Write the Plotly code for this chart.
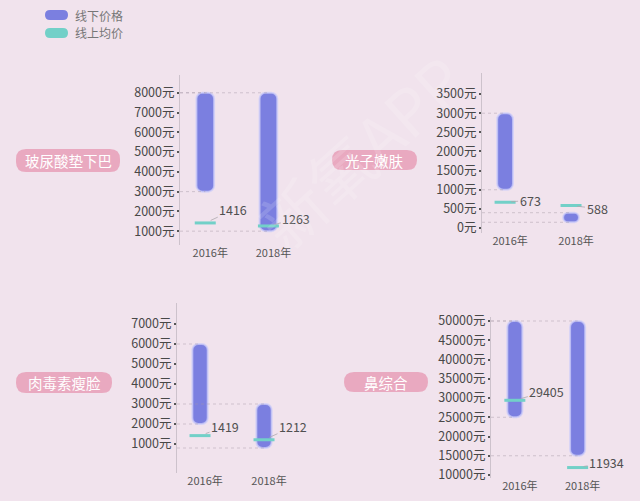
import plotly.graph_objects as go

# ---------------- data ----------------
years = ["2016年", "2018年"]
procedures = ["玻尿酸垫下巴", "光子嫩肤", "肉毒素瘦脸", "鼻综合"]

chin_low = [3000, 1000]
chin_high = [8000, 8000]
chin_online = [1416, 1263]

photon_low = [1000, 150]
photon_high = [3000, 400]
photon_online = [673, 588]

botox_low = [2000, 800]
botox_high = [6000, 3000]
botox_online = [1419, 1212]

nose_low = [25000, 15000]
nose_high = [50000, 50000]
nose_online = [29405, 11934]

chin_ticks = [1000, 2000, 3000, 4000, 5000, 6000, 7000, 8000]
photon_ticks = [0, 500, 1000, 1500, 2000, 2500, 3000, 3500]
botox_ticks = [1000, 2000, 3000, 4000, 5000, 6000, 7000]
nose_ticks = [10000, 15000, 20000, 25000, 30000, 35000, 40000, 45000, 50000]
unit = "元"

legend_names = ["线下价格", "线上均价"]
watermark = "新氧APP"

# ---------------- layout helpers ----------------
W, H = 640, 501
BG = "#f1e3ed"
PURPLE = "#7b7fe0"
TEAL = "#72d0c8"
PINK = "#e9a9c0"
FONT = "Noto Sans CJK SC, Roboto, sans-serif"


def fx(x):
    return x / W


def fy(y):
    return 1 - y / H


def pill_path(x0, y0, x1, y1, r):
    def P(x, y):
        return f"{fx(x):.5f},{fy(y):.5f}"
    return (f"M {P(x0 + r, y0)} L {P(x1 - r, y0)} Q {P(x1, y0)} {P(x1, y0 + r)} "
            f"L {P(x1, y1 - r)} Q {P(x1, y1)} {P(x1 - r, y1)} "
            f"L {P(x0 + r, y1)} Q {P(x0, y1)} {P(x0, y1 - r)} "
            f"L {P(x0, y0 + r)} Q {P(x0, y0)} {P(x0 + r, y0)} Z")


panels = [
    dict(name=procedures[0], low=chin_low, high=chin_high, online=chin_online, ticks=chin_ticks,
         xdom=(180, 300), ydom=(75, 245), xr=(-0.4, 1.5), yr=(300, 8900), bw=0.28,
         pill=(16, 149, 120, 172), offs=[(28, -13), (28, -7)]),
    dict(name=procedures[1], low=photon_low, high=photon_high, online=photon_online, ticks=photon_ticks,
         xdom=(482, 604), ydom=(73, 233), xr=(-0.35, 1.5), yr=(-130, 4050), bw=0.24,
         pill=(332, 150, 417, 170), offs=[(25, -2), (26, 3)]),
    dict(name=procedures[2], low=botox_low, high=botox_high, online=botox_online, ticks=botox_ticks,
         xdom=(177, 296), ydom=(303, 473), xr=(-0.36, 1.5), yr=(-450, 8050), bw=0.24,
         pill=(16, 372, 112, 393), offs=[(25, -9), (29, -13)]),
    dict(name=procedures[3], low=nose_low, high=nose_high, online=nose_online, ticks=nose_ticks,
         xdom=(491, 609), ydom=(317, 478), xr=(-0.38, 1.5), yr=(9220, 51040), bw=0.24,
         pill=(344, 372, 428, 392), offs=[(32, -9), (29, -5)]),
]

fig = go.Figure()
shapes = []
annotations = []
layout_axes = {}

for i, p in enumerate(panels):
    n = "" if i == 0 else str(i + 1)
    xa, ya = "x" + n, "y" + n
    xs = list(range(len(years)))

    # dotted reference lines from the axis to each bar's ends
    lx, ly = [], []
    for j in xs:
        for v in (p["high"][j], p["low"][j]):
            lx += [p["xr"][0], j, None]
            ly += [v, v, None]
    fig.add_trace(go.Scatter(x=lx, y=ly, mode="lines", xaxis=xa, yaxis=ya,
                             line=dict(color="rgba(165,150,165,0.45)", width=1, dash="dot"),
                             hoverinfo="skip", showlegend=False))

    # offline price range bars
    fig.add_trace(go.Bar(x=xs, y=[h - l for h, l in zip(p["high"], p["low"])], base=p["low"],
                         width=p["bw"], xaxis=xa, yaxis=ya, name=legend_names[0], showlegend=False,
                         marker=dict(color=PURPLE, cornerradius=6,
                                     line=dict(color="rgba(205,205,250,0.75)", width=2))))

    # online average markers
    fig.add_trace(go.Scatter(x=xs, y=p["online"], mode="markers", xaxis=xa, yaxis=ya,
                             name=legend_names[1], showlegend=False,
                             marker=dict(symbol="line-ew", size=15, color=TEAL,
                                         line=dict(width=3, color=TEAL))))

    for j in xs:
        annotations.append(dict(x=j, y=p["online"][j], xref=xa, yref=ya, text=str(p["online"][j]),
                                showarrow=True, arrowhead=0, arrowwidth=1,
                                arrowcolor="rgba(175,170,175,0.8)", standoff=6,
                                ax=p["offs"][j][0], ay=p["offs"][j][1],
                                font=dict(size=12.5, color="#505050", family=FONT)))

    layout_axes["xaxis" + n] = dict(domain=[fx(p["xdom"][0]), fx(p["xdom"][1])], range=list(p["xr"]),
                                    anchor=ya, tickvals=xs, ticktext=years, showline=False,
                                    showgrid=False, zeroline=False, ticks="", automargin=False,
                                    ticklabelshift=5,
                                    tickfont=dict(size=11, color="#555555", family=FONT))
    layout_axes["yaxis" + n] = dict(domain=[fy(p["ydom"][1]), fy(p["ydom"][0])], range=list(p["yr"]),
                                    anchor=xa, tickvals=p["ticks"],
                                    ticktext=[f"{v}{unit}" for v in p["ticks"]],
                                    showline=True, linecolor="#cdc2cc", linewidth=1,
                                    ticks="outside", ticklen=2, tickwidth=2, tickcolor="#555555",
                                    showgrid=False, zeroline=False, automargin=False,
                                    tickfont=dict(size=12.5, color="#484848", family=FONT))

    # procedure label pill
    x0, y0, x1, y1 = p["pill"]
    shapes.append(dict(type="path", xref="paper", yref="paper", path=pill_path(x0, y0, x1, y1, 10),
                       fillcolor=PINK, line=dict(width=0), layer="below"))
    annotations.append(dict(x=fx((x0 + x1) / 2), y=fy((y0 + y1) / 2), xref="paper", yref="paper",
                            xanchor="center", yanchor="middle",
                            text=p["name"], showarrow=False,
                            font=dict(size=14.5, color="white", family=FONT)))

# legend (custom pills)
for k, (col, yc) in enumerate([(PURPLE, 15), (TEAL, 33)]):
    shapes.append(dict(type="path", xref="paper", yref="paper",
                       path=pill_path(45, yc - 5, 68, yc + 5, 5), fillcolor=col, line=dict(width=0)))
    annotations.append(dict(x=fx(73), y=fy(yc), xref="paper", yref="paper",
                            xanchor="left", yanchor="middle",
                            text=legend_names[k], showarrow=False,
                            font=dict(size=12, color="#777777", family=FONT)))

# faint watermark
annotations.append(dict(x=fx(360), y=fy(150), xref="paper", yref="paper", text=watermark,
                        xanchor="center", yanchor="middle",
                        showarrow=False, textangle=-42,
                        font=dict(size=64, color="rgba(255,255,255,0.15)", family=FONT)))

fig.update_layout(width=W, height=H, margin=dict(l=0, r=0, t=0, b=0, autoexpand=False),
                  paper_bgcolor=BG, plot_bgcolor="rgba(0,0,0,0)",
                  font=dict(family=FONT), barmode="overlay",
                  shapes=shapes, annotations=annotations, **layout_axes)

fig.write_html("out.html", config={"displayModeBar": False},
               post_script="document.body.style.margin='0';document.body.style.padding='0';"
                           "document.body.style.background='" + BG + "';")
